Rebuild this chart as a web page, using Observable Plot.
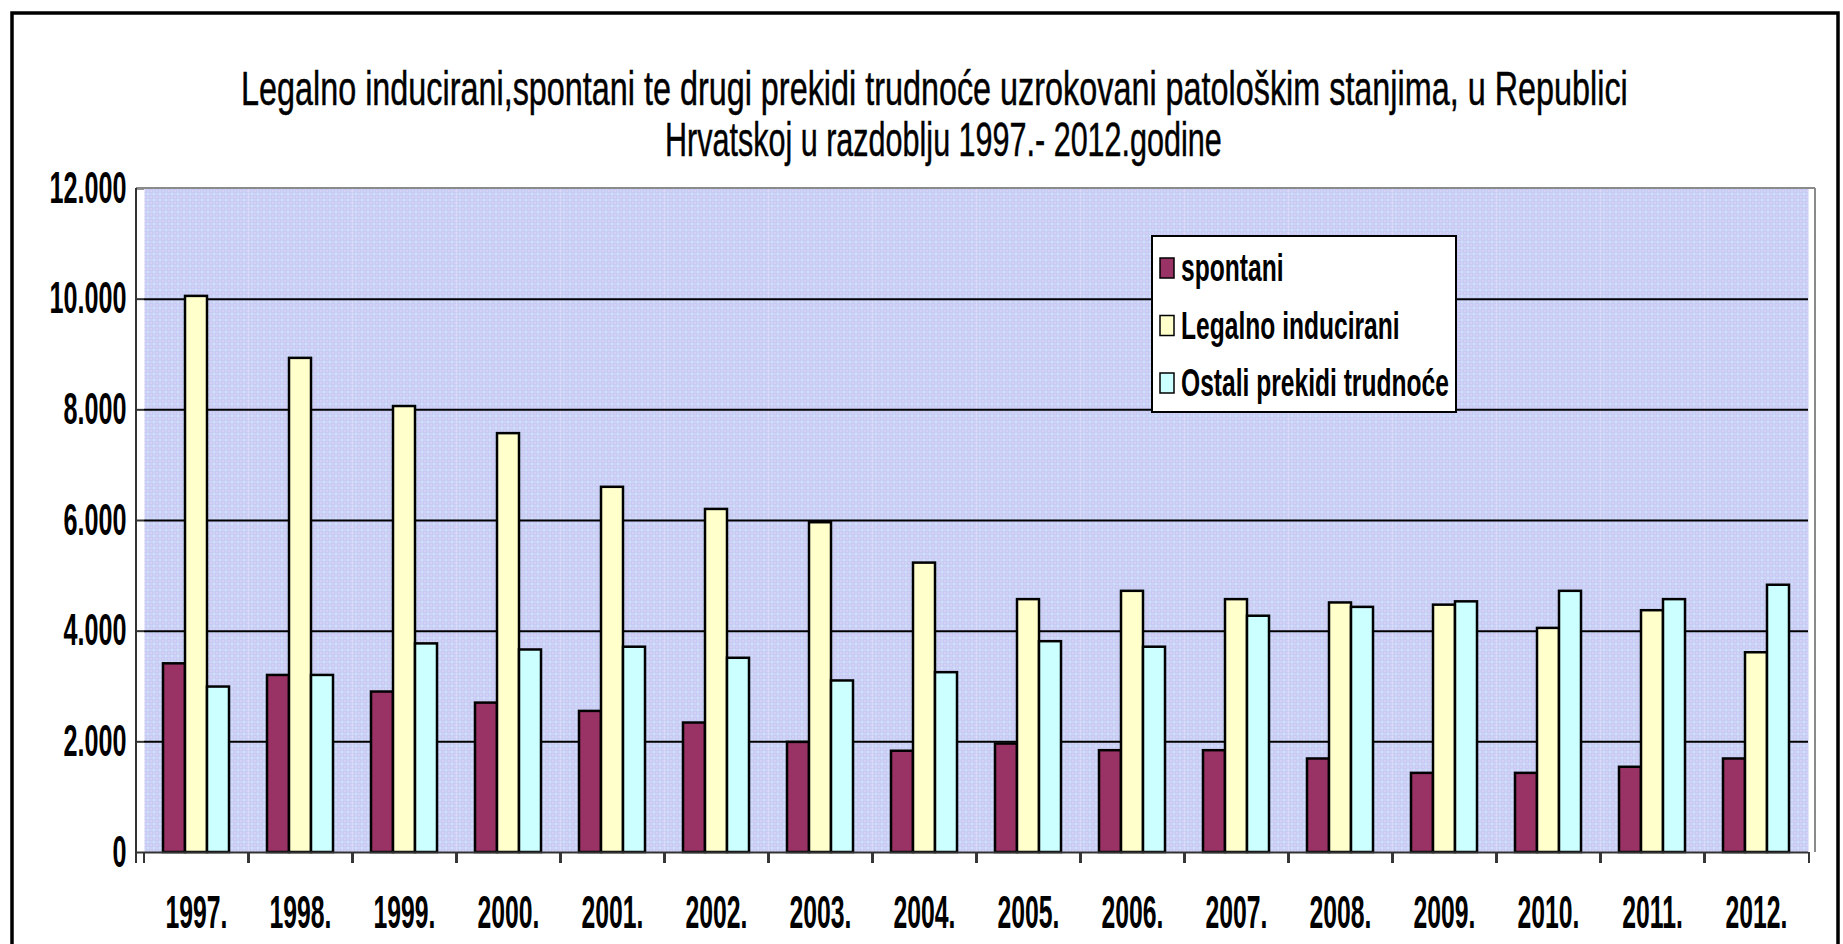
<!DOCTYPE html>
<html>
<head>
<meta charset="utf-8">
<script src="https://cdn.jsdelivr.net/npm/d3@7"></script>
<script src="https://cdn.jsdelivr.net/npm/@observablehq/plot@0.6"></script>
<style>
  html, body { margin: 0; padding: 0; background: #ffffff; }
  #chart svg { display: block; }
</style>
</head>
<body>
<div id="chart"></div>
<script>
// ---- data ----
const years = ["1997.", "1998.", "1999.", "2000.", "2001.", "2002.", "2003.", "2004.",
               "2005.", "2006.", "2007.", "2008.", "2009.", "2010.", "2011.", "2012."];
const seriesNames = ["spontani", "Legalno inducirani", "Ostali prekidi trudnoće"];
const spontani = [3410, 3200, 2900, 2700, 2550, 2340, 1990, 1830, 1960, 1840, 1840, 1690, 1430, 1430, 1540, 1690];
const legalno  = [10050, 8930, 8060, 7570, 6600, 6200, 5960, 5230, 4570, 4720, 4570, 4510, 4470, 4050, 4370, 3610];
const ostali   = [2990, 3200, 3770, 3660, 3710, 3510, 3100, 3250, 3810, 3710, 4270, 4430, 4530, 4720, 4570, 4830];
const seriesColors = ["#993366", "#ffffcc", "#ccffff"];
const yTicks = [0, 2000, 4000, 6000, 8000, 10000, 12000];
const titleLines = [
  "Legalno inducirani,spontani te drugi prekidi trudnoće uzrokovani patološkim stanjima, u Republici",
  "Hrvatskoj u razdoblju 1997.- 2012.godine"
];

// ---- tidy table ----
const seriesValues = [spontani, legalno, ostali];
const data = years.flatMap((yr, i) =>
  seriesNames.map((s, j) => ({year: yr, series: s, value: seriesValues[j][i]})));

// ---- layout ----
const W = 1843, H = 944;
const mL = 136, mR = 28, mT = 188, mB = 92;
const step = (W - mL - mR) / years.length;
const font = "'Liberation Sans', Arial, sans-serif";
const fmt = d3.formatLocale({decimal: ",", thousands: ".", grouping: [3], currency: ["", ""]}).format(",d");
const Y_FS = 44, X_FS = 47, LEG_FS = 38, TITLE_FS = 49;

const plot = Plot.plot({
  width: W, height: H,
  marginLeft: mL, marginRight: mR, marginTop: mT, marginBottom: mB,
  style: {background: "#ffffff", fontFamily: font, color: "#000", overflow: "visible"},
  fx: {domain: years, padding: 0, label: null},
  x: {domain: seriesNames, paddingInner: 0, paddingOuter: 0.81, axis: null},
  y: {domain: [0, 12000], label: null},
  color: {domain: seriesNames, range: seriesColors},
  marks: [
    Plot.frame({fill: "url(#plotbg)", stroke: null}),
    Plot.gridY(yTicks.filter(d => d > 0 && d < 12000), {stroke: "#000", strokeOpacity: 1, strokeWidth: 2}),
    Plot.barY(data, {fx: "year", x: "series", y: "value", fill: "series", stroke: "#000", strokeWidth: 2.5}),
    Plot.ruleY([0], {stroke: "#333", strokeWidth: 2}),
    Plot.axisY({ticks: yTicks, tickFormat: fmt, tickSize: 8, tickPadding: 10, fontSize: Y_FS,
                fontWeight: "bold", label: null, stroke: "#333", strokeWidth: 2}),
    Plot.axisFx({anchor: "bottom", tickSize: 0, tickPadding: 42, fontSize: X_FS, fontWeight: "bold", label: null}),
    Plot.axisFx({anchor: "bottom", tickSize: 11, tickFormat: () => "", label: null, dx: step / 2, stroke: "#333", strokeWidth: 2}),
    Plot.axisFx({anchor: "bottom", tickSize: 11, tickFormat: () => "", label: null, dx: -step / 2, stroke: "#333", strokeWidth: 2})
  ]
});

document.getElementById("chart").appendChild(plot);
const svg = d3.select(plot);

// textured plot background (dotted lavender/blue paper)
const defs = svg.insert("defs", ":first-child");
const pat = defs.append("pattern").attr("id", "plotbg").attr("patternUnits", "userSpaceOnUse")
  .attr("width", 6).attr("height", 6);
pat.append("rect").attr("width", 6).attr("height", 6).attr("fill", "#c3caf3");
pat.append("rect").attr("x", 0).attr("y", 0).attr("width", 3).attr("height", 3).attr("fill", "#cad8f7");
pat.append("rect").attr("x", 3).attr("y", 3).attr("width", 3).attr("height", 3).attr("fill", "#ccc7f3");
[[1, 1], [4, 1], [1, 4], [4, 4]].forEach(([x, y]) =>
  pat.append("rect").attr("x", x).attr("y", y).attr("width", 1).attr("height", 1)
    .attr("fill", "#ffffff").attr("fill-opacity", 0.75));

// condense tick labels (narrow bold face in the original): fit the widest label to its measured width
function squeeze(nodes, fs, target) {
  const arr = Array.from(nodes);
  arr.forEach(t => {
    t.setAttribute("font-size", fs);
    t.style.fontSize = fs + "px";
    t.style.fontWeight = "bold";
    t.style.fontFamily = font;
  });
  const widest = d3.max(arr, t => t.getComputedTextLength()) || 1;
  const s = target / widest;
  arr.forEach(t => {
    const x = +t.getAttribute("x") || 0;
    const tr = t.getAttribute("transform") || "";
    t.setAttribute("transform", `${tr} translate(${x},0) scale(${s},1) translate(${-x},0)`);
  });
}
plot.querySelectorAll("g[aria-label]").forEach(g => {
  const lab = g.getAttribute("aria-label");
  if (lab.includes("y-axis tick label")) squeeze(g.querySelectorAll("text"), Y_FS, 77);
  if (lab.includes("fx-axis tick label")) squeeze(g.querySelectorAll("text"), X_FS, 62);
});

// plot area borders
const x0 = mL, x1 = W - mR, y0 = mT, y1 = H - mB;
svg.append("line").attr("x1", x0).attr("x2", x1).attr("y1", y0).attr("y2", y0)
  .attr("stroke", "#8a8a8a").attr("stroke-width", 2);
svg.append("line").attr("x1", x1).attr("x2", x1).attr("y1", y0).attr("y2", y1)
  .attr("stroke", "#8a8a8a").attr("stroke-width", 2);
svg.append("line").attr("x1", x0).attr("x2", x0).attr("y1", y0).attr("y2", y1 + 11)
  .attr("stroke", "#333").attr("stroke-width", 2);

// outer chart border
svg.append("rect").attr("x", 12).attr("y", 13).attr("width", 1826).attr("height", 1000)
  .attr("fill", "none").attr("stroke", "#000").attr("stroke-width", 3.5);

// title (condensed to the original's width)
const tg = svg.append("g").attr("font-family", font).attr("font-size", TITLE_FS)
  .attr("fill", "#000").attr("stroke", "#000").attr("stroke-width", 0.5).attr("text-anchor", "start");
[[titleLines[0], 241, 105, 1387], [titleLines[1], 665, 156, 557]].forEach(([txt, x, y, w]) => {
  const t = tg.append("text").text(txt);
  const s = w / t.node().getComputedTextLength();
  t.attr("transform", `translate(${x},${y}) scale(${s},1)`);
});

// legend
const color = plot.scale("color");
const lg = svg.append("g").attr("transform", "translate(1152,236)").attr("text-anchor", "start");
lg.append("rect").attr("width", 304).attr("height", 176)
  .attr("fill", "#fff").attr("stroke", "#000").attr("stroke-width", 2);
const legTexts = [];
seriesNames.forEach((s, i) => {
  const cy = 32 + i * 57.5;
  lg.append("rect").attr("x", 8).attr("y", cy - 10).attr("width", 14).attr("height", 20)
    .attr("fill", color.apply(s)).attr("stroke", "#000").attr("stroke-width", 1.5);
  legTexts.push(lg.append("text").attr("font-family", font).attr("font-weight", "bold")
    .attr("font-size", LEG_FS).attr("text-anchor", "start").attr("data-cy", cy).text(s));
});
const legW = d3.max(legTexts, t => t.node().getComputedTextLength());
const legS = 268 / legW;
legTexts.forEach(t => t.attr("transform", `translate(29,${+t.attr("data-cy") + LEG_FS * 0.345}) scale(${legS},1)`));
</script>
</body>
</html>
